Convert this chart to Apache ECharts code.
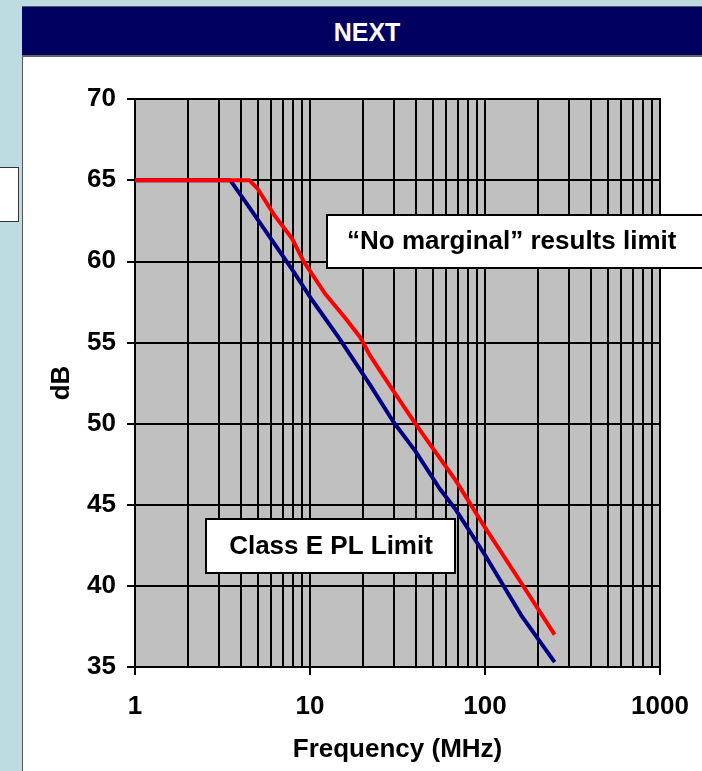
<!DOCTYPE html>
<html>
<head>
<meta charset="utf-8">
<script src="https://cdn.jsdelivr.net/npm/echarts@6/dist/echarts.min.js"></script>
<style>
  html, body { margin:0; padding:0; width:702px; height:771px; overflow:hidden; background:#BCDCE2; }
  #leftbox { position:absolute; left:-2px; top:167px; width:19px; height:53px; background:#fff; border:1px solid #333; }
  #panel { position:absolute; left:22px; top:6px; width:700px; height:780px; background:#fff; border-left:1px solid #555; border-top:1px solid #555; }
  #header { position:absolute; left:22px; top:7px; width:700px; height:48px; background:#000060; border-bottom:2px solid #666; }
  #title { position:absolute; left:22px; top:7px; width:690px; height:48px; text-align:center; color:#fff; font:bold 25px "Liberation Sans", Arial, sans-serif; line-height:50px; }
  #chart { position:absolute; left:0; top:0; width:702px; height:771px; }
</style>
</head>
<body>
<div id="leftbox"></div>
<div id="panel"></div>
<div id="header"></div>
<div id="title">NEXT</div>
<div id="chart"></div>
<script>
// Frequencies (MHz) and dB values
const redFreq = [1, 4.5, 5, 6.3, 7.9, 9.2, 12.2, 15.9, 19.4, 22, 30, 40, 51, 68, 100, 163, 250];
const redDb   = [65, 65, 64.5, 62.8, 61.4, 60.0, 58.0, 56.5, 55.3, 54.2, 52.0, 50.0, 48.4, 46.5, 43.6, 40.1, 37.0];
const blueFreq = [1, 3.5, 4.45, 5.8, 7.9, 10.3, 14.6, 22, 30, 40, 55, 68, 100, 163, 250];
const blueDb   = [65, 65, 63.4, 61.6, 59.5, 57.6, 55.3, 52.4, 50.1, 48.3, 46.0, 44.7, 41.9, 38.1, 35.3];
const minorGrid = [2,3,4,5,6,7,8,9,20,30,40,50,60,70,80,90,200,300,400,500,600,700,800,900];
const xTickLabels = ['1', '10', '100', '1000'];
const yMin = 35, yMax = 70, yStep = 5;
const xMin = 1, xMax = 1000;
const annoNoMarginal = '\u201CNo marginal\u201D results limit';
const annoClassE = 'Class E PL Limit';

const FONT = '"Liberation Sans", Arial, sans-serif';
const FS = 26;
const chart = echarts.init(document.getElementById('chart'));
const zip = (a, b) => a.map((v, i) => [v, b[i]]);

chart.setOption({
  backgroundColor: 'transparent',
  animation: false,
  grid: { left: 135, right: 42, top: 99, bottom: 104, show: true, backgroundColor: '#C0C0C0', borderColor: '#000', borderWidth: 2 },
  xAxis: {
    type: 'log', logBase: 10, min: xMin, max: xMax,
    name: 'Frequency (MHz)', nameLocation: 'middle', nameGap: 70,
    nameTextStyle: { fontFamily: FONT, fontWeight: 'bold', fontSize: FS, color: '#000' },
    axisLine: { show: true, lineStyle: { color: '#000', width: 2 } },
    axisTick: { show: true, length: 8, lineStyle: { color: '#000', width: 2 } },
    axisLabel: {
      fontFamily: FONT, fontWeight: 'bold', fontSize: FS, color: '#000', margin: 27,
      formatter: v => xTickLabels[Math.round(Math.log10(v))]
    },
    splitLine: { show: true, lineStyle: { color: '#000', width: 2 } },
    minorTick: { show: false }, minorSplitLine: { show: false }
  },
  yAxis: {
    type: 'value', min: yMin, max: yMax, interval: yStep,
    name: 'dB', nameLocation: 'middle', nameGap: 60,
    nameTextStyle: { fontFamily: FONT, fontWeight: 'bold', fontSize: FS, color: '#000' },
    axisLine: { show: true, lineStyle: { color: '#000', width: 2 } },
    axisTick: { show: true, length: 8, lineStyle: { color: '#000', width: 2 } },
    axisLabel: { fontFamily: FONT, fontWeight: 'bold', fontSize: FS, color: '#000', margin: 19 },
    splitLine: { show: true, lineStyle: { color: '#000', width: 2 } }
  },
  series: [
    {
      name: 'Class E PL Limit', type: 'line', data: zip(blueFreq, blueDb),
      showSymbol: false, symbol: 'none', z: 3,
      lineStyle: { color: '#000080', width: 4 },
      markLine: {
        silent: true, symbol: 'none', z: 1, animation: false,
        label: { show: false },
        lineStyle: { color: '#000', width: 2, type: 'solid' },
        emphasis: { disabled: true },
        data: minorGrid.map(v => ({ xAxis: v }))
      }
    },
    {
      name: 'No marginal', type: 'line', data: zip(redFreq, redDb),
      showSymbol: false, symbol: 'none', z: 4,
      lineStyle: { color: '#FF0000', width: 4 }
    }
  ],
  graphic: [
    {
      type: 'group', z: 100,
      children: [
        { type: 'rect', shape: { x: 327, y: 215, width: 400, height: 53 }, style: { fill: '#fff', stroke: '#000', lineWidth: 2 }, z: 100 },
        { type: 'text', x: 347, y: 242, style: { text: annoNoMarginal, font: 'bold ' + FS + 'px ' + FONT, fill: '#000', verticalAlign: 'middle', textAlign: 'left' }, z: 101 },
        { type: 'rect', shape: { x: 206, y: 519, width: 249, height: 54 }, style: { fill: '#fff', stroke: '#000', lineWidth: 2 }, z: 100 },
        { type: 'text', x: 331, y: 547, style: { text: annoClassE, font: 'bold ' + FS + 'px ' + FONT, fill: '#000', verticalAlign: 'middle', textAlign: 'center' }, z: 101 }
      ]
    }
  ]
});
</script>
</body>
</html>
